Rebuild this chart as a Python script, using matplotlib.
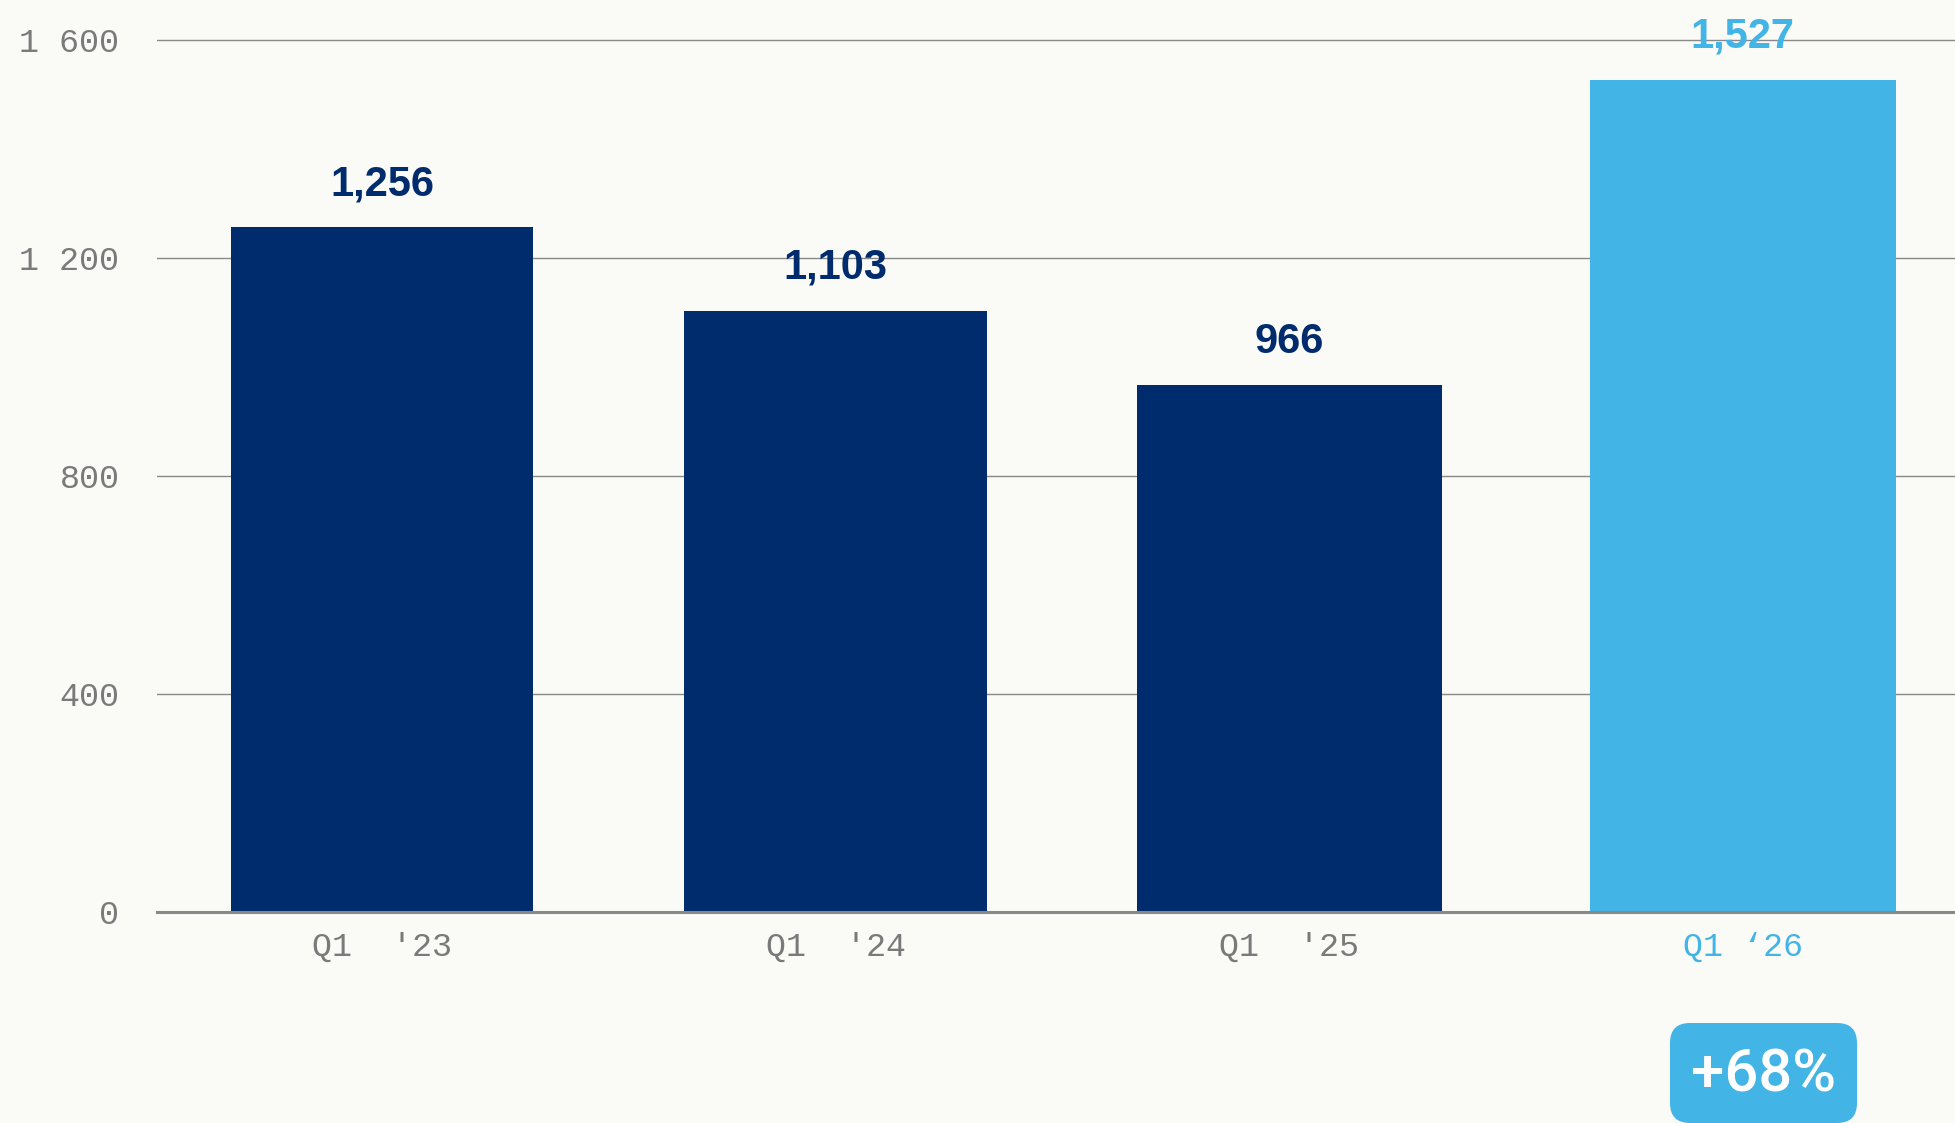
import matplotlib
matplotlib.use("Agg")
import matplotlib.pyplot as plt
from matplotlib.ticker import FuncFormatter
from matplotlib.patches import FancyBboxPatch
from matplotlib.transforms import IdentityTransform

categories = ["Q1  '23", "Q1  '24", "Q1  '25", "Q1 \u201826"]
values = [1256, 1103, 966, 1527]
value_labels = ["1,256", "1,103", "966", "1,527"]
y_ticks = [0, 400, 800, 1200, 1600]
badge_text = "+68%"

DARK = "#002C6E"
LIGHT = "#42B4E6"
BG = "#FAFAF6"
GRID = "#888888"
TICK = "#7A7A7A"

W, H = 1956, 1123
fig = plt.figure(figsize=(W / 100, H / 100), dpi=100, facecolor=BG)
ax = fig.add_axes([157 / W, 1 - 912 / H, 1 - 157 / W, 912 / H])
ax.set_facecolor(BG)

colors = [DARK, DARK, DARK, LIGHT]
x = list(range(len(categories)))
widths = [0.667, 0.667, 0.672, 0.675]
ax.bar(x, values, width=widths, color=colors, zorder=3)

ax.set_xlim(-0.496, 3.47)
ax.set_ylim(0, 1673)
ax.set_yticks(y_ticks)
ax.yaxis.set_major_formatter(FuncFormatter(lambda v, _: f"{v:,.0f}".replace(",", " ")))
ax.grid(axis="y", color=GRID, linewidth=1.0, zorder=0)
ax.set_axisbelow(True)

for s in ["top", "right", "left"]:
    ax.spines[s].set_visible(False)
ax.spines["bottom"].set_color(GRID)
ax.spines["bottom"].set_linewidth(2.2)
ax.spines["bottom"].set_zorder(4)

ax.tick_params(axis="y", length=0, pad=27, labelsize=24, labelcolor=TICK)
ax.tick_params(axis="x", length=0, pad=14, labelsize=24, labelcolor=TICK)
ax.set_xticks(x)
ax.set_xticklabels(categories)
for lab in ax.get_yticklabels() + ax.get_xticklabels():
    lab.set_family(["Liberation Mono", "DejaVu Sans Mono"])
ax.get_xticklabels()[-1].set_color(LIGHT)

for xi, v, lab, c in zip(x, values, value_labels, colors):
    ax.annotate(lab, (xi, v), xytext=(0, 31), textcoords="offset points",
                ha="center", va="center", fontsize=30, fontweight="bold",
                family="Liberation Sans", color=c, zorder=5)

# badge under the last bar (pixel coords, origin bottom-left)
badge = FancyBboxPatch((1670, 0), 187, 100,
                       boxstyle="round,pad=0,rounding_size=20",
                       transform=IdentityTransform(), facecolor=LIGHT,
                       edgecolor="none")
fig.patches.append(badge)
fig.text(1764 / W, 1 - 1075 / H, badge_text, ha="center", va="center",
         fontsize=43, fontweight="medium", family="Roboto", color="white")

fig.savefig("out.png", dpi=100, facecolor=BG)
